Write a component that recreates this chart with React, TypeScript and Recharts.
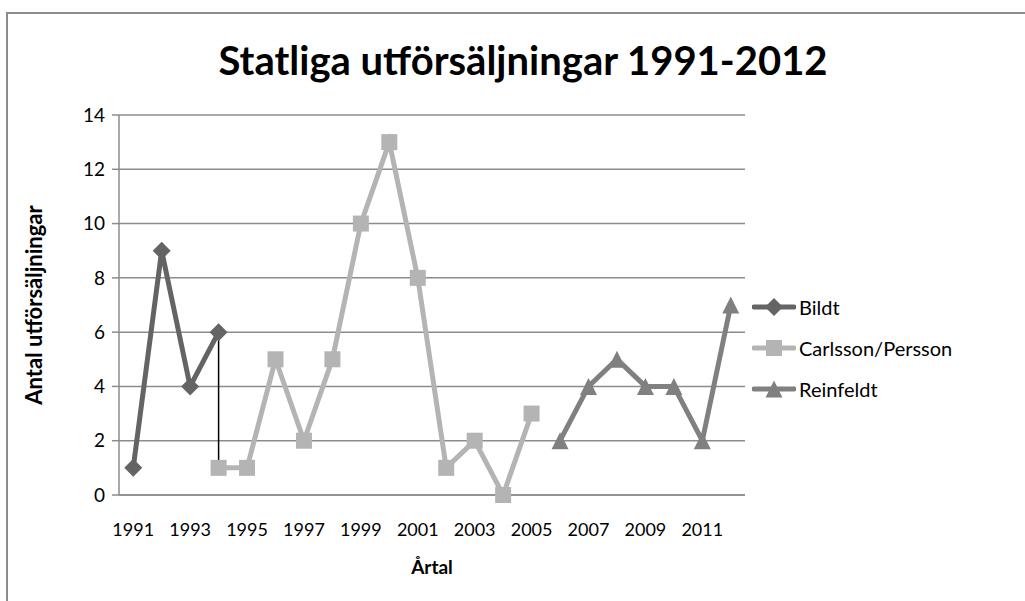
import { LineChart, Line, XAxis, YAxis, CartesianGrid, Legend, ReferenceLine } from 'recharts';

const years = [1991, 1992, 1993, 1994, 1995, 1996, 1997, 1998, 1999, 2000, 2001, 2002, 2003, 2004, 2005, 2006, 2007, 2008, 2009, 2010, 2011, 2012];
const bildt = [1, 9, 4, 6, null, null, null, null, null, null, null, null, null, null, null, null, null, null, null, null, null, null];
const carlssonPersson = [null, null, null, 1, 1, 5, 2, 5, 10, 13, 8, 1, 2, 0, 3, null, null, null, null, null, null, null];
const reinfeldt = [null, null, null, null, null, null, null, null, null, null, null, null, null, null, null, 2, 4, 5, 4, 4, 2, 7];
const yTicks = [0, 2, 4, 6, 8, 10, 12, 14];

const seriesNames = ['Bildt', 'Carlsson/Persson', 'Reinfeldt'];
const colors = ['#646464', '#b4b4b4', '#808080'];

const data = years.map((year, i) => ({
  year,
  bildt: bildt[i],
  carlsson: carlssonPersson[i],
  reinfeldt: reinfeldt[i],
}));

const FONT = 'Lato, "Open Sans", sans-serif';
const AXIS = '#8c8c8c';
// plot spans x 119..745 => half a category on each side
const HALF_BAND = (745 - 119) / years.length / 2;

type MarkerProps = { cx?: number; cy?: number; value?: number | null; index?: number };

function Marker({ kind, cx, cy, fill }: { kind: number; cx: number; cy: number; fill: string }) {
  if (kind === 0) {
    const r = 9;
    return <path d={`M${cx},${cy - r}L${cx + r},${cy}L${cx},${cy + r}L${cx - r},${cy}Z`} fill={fill} />;
  }
  if (kind === 1) {
    const s = 8;
    return <rect x={cx - s} y={cy - s} width={s * 2} height={s * 2} fill={fill} />;
  }
  const h = 8.5;
  return <path d={`M${cx},${cy - h}L${cx + h},${cy + h}L${cx - h},${cy + h}Z`} fill={fill} />;
}

const makeDot = (kind: number) => (props: MarkerProps) => {
  const { cx, cy, value, index } = props;
  if (value == null || cx == null || cy == null) return <g key={`e-${kind}-${index}`} />;
  return <Marker key={`m-${kind}-${index}`} kind={kind} cx={cx} cy={cy} fill={colors[kind]} />;
};

const LegendContent = () => (
  <div style={{ fontFamily: FONT, fontSize: 20, color: '#000' }}>
    {seriesNames.map((name, i) => (
      <div key={name} style={{ display: 'flex', alignItems: 'center', height: 41 }}>
        <svg width={44} height={20} style={{ marginRight: 3 }}>
          <line x1={2} y1={10} x2={42} y2={10} stroke={colors[i]} strokeWidth={5} strokeLinecap="round" />
          <Marker kind={i} cx={22} cy={10} fill={colors[i]} />
        </svg>
        <span>{name}</span>
      </div>
    ))}
  </div>
);

export default function App() {
  return (
    <div style={{ position: 'absolute', left: 0, top: 0, width: 1025, height: 601, background: '#fff', overflow: 'hidden' }}>
      <div
        style={{
          position: 'absolute',
          left: 6,
          top: 12,
          width: 1040,
          height: 620,
          borderTop: `2px solid ${AXIS}`,
          borderLeft: `2px solid ${AXIS}`,
        }}
      />
      <div
        style={{
          position: 'absolute',
          left: 0,
          width: 1046,
          top: 36,
          textAlign: 'center',
          fontFamily: FONT,
          fontWeight: 700,
          fontSize: 40,
          color: '#000',
        }}
      >
        Statliga utförsäljningar 1991-2012
      </div>
      <div style={{ position: 'absolute', left: 0, top: 0 }}>
        <LineChart width={1025} height={601} data={data} margin={{ top: 115, right: 10, bottom: 36, left: 0 }}>
          <CartesianGrid horizontal vertical={false} stroke={AXIS} strokeWidth={1.5} />
          <XAxis
            dataKey="year"
            type="category"
            interval={1}
            padding={{ left: HALF_BAND, right: HALF_BAND }}
            tickLine={false}
            axisLine={{ stroke: AXIS, strokeWidth: 1.5 }}
            tick={{ fontFamily: FONT, fontSize: 18, fill: '#000' }}
            tickMargin={22}
            height={70}
            label={{
              value: 'Årtal',
              position: 'insideBottom',
              offset: -9,
              style: { fontFamily: FONT, fontSize: 19, fontWeight: 700, fill: '#000' },
            }}
          />
          <YAxis
            domain={[0, 14]}
            ticks={yTicks}
            width={119}
            tickSize={7}
            tickLine={{ stroke: AXIS, strokeWidth: 1.5 }}
            axisLine={{ stroke: AXIS, strokeWidth: 1.5 }}
            tick={{ fontFamily: FONT, fontSize: 19, fill: '#000' }}
            tickMargin={7}
            label={{
              value: 'Antal utförsäljningar',
              angle: -90,
              position: 'insideLeft',
              offset: 34,
              style: { fontFamily: FONT, fontSize: 22, fontWeight: 700, fill: '#000', textAnchor: 'middle' },
            }}
          />
          <Line dataKey="bildt" name={seriesNames[0]} stroke={colors[0]} strokeWidth={5} dot={makeDot(0)} isAnimationActive={false} />
          <Line dataKey="carlsson" name={seriesNames[1]} stroke={colors[1]} strokeWidth={5} dot={makeDot(1)} isAnimationActive={false} />
          <Line dataKey="reinfeldt" name={seriesNames[2]} stroke={colors[2]} strokeWidth={5} dot={makeDot(2)} isAnimationActive={false} />
          <ReferenceLine
            segment={[
              { x: years[3], y: bildt[3] as number },
              { x: years[3], y: carlssonPersson[3] as number },
            ]}
            stroke="#000"
            strokeWidth={1.5}
          />
          <Legend
            layout="vertical"
            align="right"
            verticalAlign="top"
            content={<LegendContent />}
            wrapperStyle={{ left: 752, top: 286, width: 270 }}
          />
        </LineChart>
      </div>
    </div>
  );
}
